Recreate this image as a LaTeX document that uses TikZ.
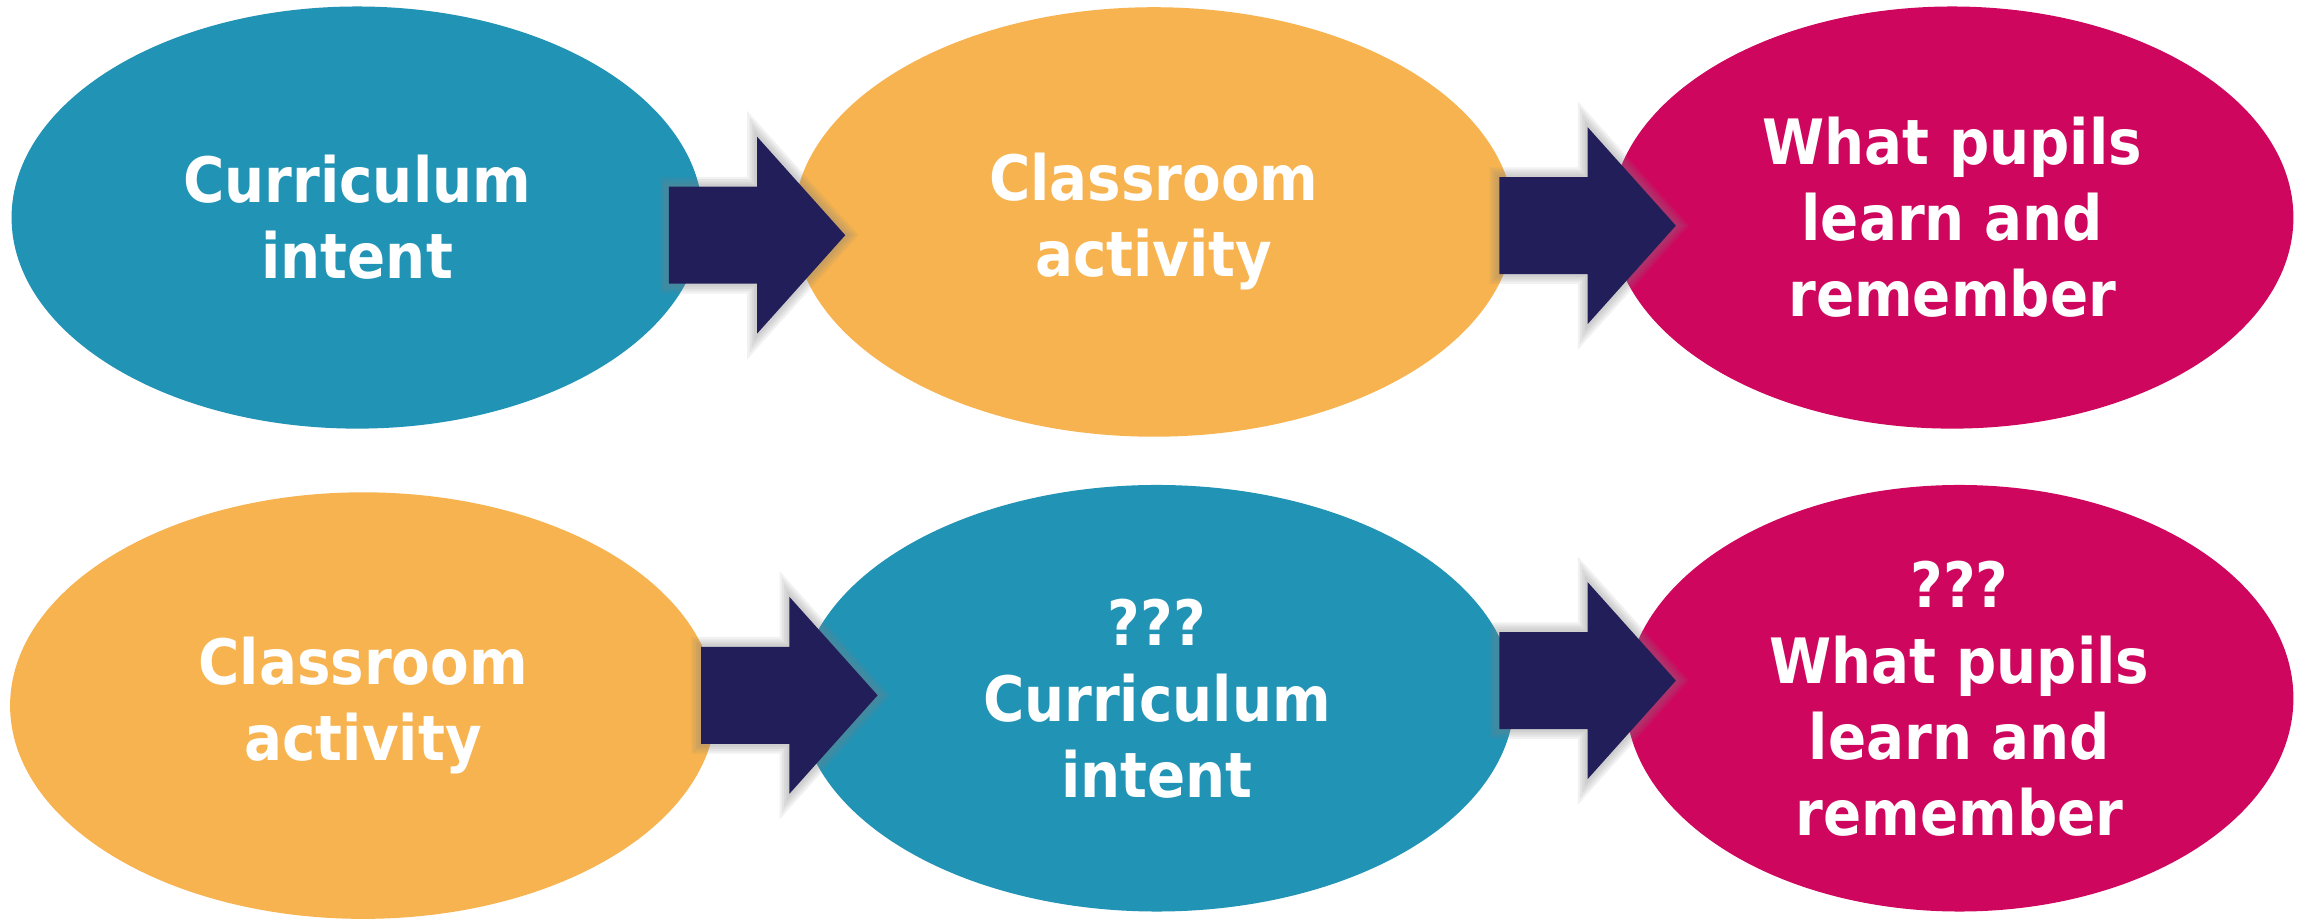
\documentclass[tikz,border=0pt]{standalone}
\usepackage{fontspec}
\newfontfamily\labelfont{DejaVu Sans}[FakeStretch=0.9]
\usetikzlibrary{shapes.geometric}
\definecolor{tealblue}{RGB}{33,147,181}
\definecolor{sunorange}{RGB}{247,179,79}
\definecolor{berry}{RGB}{206,6,94}
\definecolor{navyarrow}{RGB}{34,30,90}
\tikzset{
  oval/.style={ellipse, inner sep=0pt, text=white, align=center,
    font=\labelfont\bfseries\fontsize{12.1}{14.7}\selectfont},
  glow/.style={draw=gray, line join=miter, line width=#1, opacity=0.11},
  blockarrow/.style={fill=navyarrow,
    preaction={glow=3.8pt}, preaction={glow=2.9pt},
    preaction={glow=2.0pt}, preaction={glow=1.1pt}}
}
% block arrow: shaft starts at (#1,#2), shaft length 60, head length 60
\newcommand{\flowarrow}[2]{%
  \path[blockarrow] (#1,#2) ++(0,33) -- ++(60,0) -- ++(0,34) -- ++(60,-67)
    -- ++(-60,-67) -- ++(0,34) -- ++(-60,0) -- cycle;}
\begin{document}
\begin{tikzpicture}[x=0.01cm, y=-0.01cm]
\useasboundingbox (0,0) rectangle (1568,625);
\fill[white] (0,0) rectangle (1568,625);

% upper row
\node[oval, fill=tealblue, minimum width=4.70cm, minimum height=2.87cm] (intentA) at (243,148) {Curriculum\\intent};
\node[oval, fill=sunorange, minimum width=4.90cm, minimum height=2.92cm] (activityA) at (785,151) {Classroom\\activity};
\node[oval, fill=berry, minimum width=4.64cm, minimum height=2.87cm] (learnA) at (1328,148) {What pupils\\learn and\\remember};

% lower row
\node[oval, fill=sunorange, minimum width=4.80cm, minimum height=2.90cm] (activityB) at (247,480) {Classroom\\activity};
\node[oval, fill=tealblue, minimum width=4.86cm, minimum height=2.90cm] (intentB) at (787,475) {???\\Curriculum\\intent};
\node[oval, fill=berry, minimum width=4.54cm, minimum height=2.90cm] (learnB) at (1333,475) {???\\What pupils\\learn and\\remember};

% arrows between the ovals
\flowarrow{455}{160}
\flowarrow{1020}{153.5}
\flowarrow{477}{473}
\flowarrow{1020}{463}
\end{tikzpicture}
\end{document}
